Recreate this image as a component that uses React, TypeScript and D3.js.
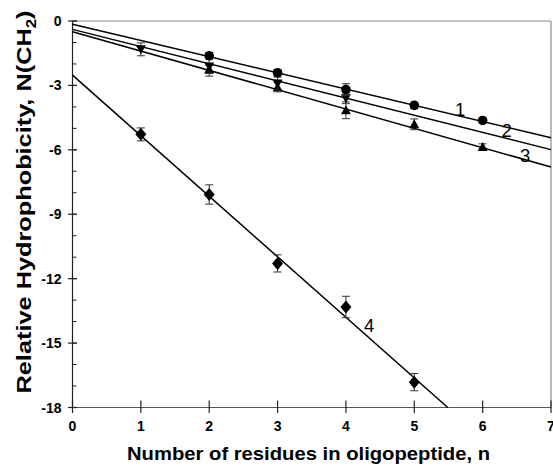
import React from "react";
import * as d3 from "d3";

// ---- data ----
const nValues1 = [2, 3, 4, 5, 6];
const hydro1 = [-1.62, -2.41, -3.19, -3.93, -4.63];
const err1 = [0.15, 0.12, 0.27, 0.15, 0.12];

const nValues2 = [1, 2, 3, 4];
const hydro2 = [-1.32, -2.12, -2.91, -3.6];
const err2 = [0.3, 0.45, 0.3, 0.25];

const nValues3 = [2, 3, 4, 5, 6];
const hydro3 = [-2.25, -3.08, -4.16, -4.81, -5.87];
const err3 = [0.2, 0.22, 0.39, 0.25, 0.15];

const nValues4 = [1, 2, 3, 4, 5];
const hydro4 = [-5.28, -8.08, -11.29, -13.32, -16.82];
const err4 = [0.3, 0.45, 0.4, 0.5, 0.4];

// regression lines: intercept, slope
const lineIntercepts = [-0.15, -0.39, -0.5, -2.52];
const lineSlopes = [-0.755, -0.8, -0.9, -2.82];
const lineLabels = ["1", "2", "3", "4"];
const labelAt = [
  [5.67, -4.11],
  [6.35, -5.08],
  [6.62, -6.24],
  [4.34, -14.16],
];

const xTicks = [0, 1, 2, 3, 4, 5, 6, 7];
const yMajorTicks = [0, -3, -6, -9, -12, -15, -18];
const yMinorTicks = d3.range(0, -19, -1);

const W = 553;
const H = 467;
const x = d3.scaleLinear().domain([0, 7]).range([72.5, 551]);
const y = d3.scaleLinear().domain([-18, 0]).range([407.5, 21]);

const FONT = "'Liberation Sans', Arial, Helvetica, sans-serif";

type Marker = "circle" | "down" | "up" | "diamond";

function markerPath(type: Marker): string {
  if (type === "circle") return d3.symbol(d3.symbolCircle, 72)() as string;
  if (type === "diamond") return "M0,-6.5L5.5,0L0,6.5L-5.5,0Z";
  if (type === "up") return "M0,-5L5,4L-5,4Z";
  return "M0,5L5,-4L-5,-4Z";
}

function Series({ ns, vs, es, type }: { ns: number[]; vs: number[]; es: number[]; type: Marker }) {
  return (
    <g>
      {ns.map((n, i) => {
        const cx = x(n);
        const cy = y(vs[i]);
        const y1 = y(vs[i] + es[i]);
        const y2 = y(vs[i] - es[i]);
        return (
          <g key={i}>
            <line x1={cx} x2={cx} y1={y1} y2={y2} stroke="#333" strokeWidth={1} />
            <line x1={cx - 4} x2={cx + 4} y1={y1} y2={y1} stroke="#333" strokeWidth={1} />
            <line x1={cx - 4} x2={cx + 4} y1={y2} y2={y2} stroke="#333" strokeWidth={1} />
            <path d={markerPath(type)} transform={`translate(${cx},${cy})`} fill="#000" />
          </g>
        );
      })}
    </g>
  );
}

export default function App() {
  const fitLines = lineIntercepts.map((b, i) => {
    const m = lineSlopes[i];
    let xEnd = 7;
    if (b + m * 7 < -18) xEnd = (-18 - b) / m;
    return { x1: 0, y1: b, x2: xEnd, y2: b + m * xEnd };
  });

  return (
    <svg
      width={W}
      height={H}
      style={{ position: "absolute", left: 0, top: 0, background: "#fff" }}
      fontFamily={FONT}
    >
      {/* frame */}
      <line x1={x(0)} x2={x(7)} y1={y(0)} y2={y(0)} stroke="#888" strokeWidth={1} />
      <line x1={x(7)} x2={x(7)} y1={y(0)} y2={y(-18)} stroke="#777" strokeWidth={1} />
      <line x1={x(0)} x2={x(7)} y1={y(-18)} y2={y(-18)} stroke="#555" strokeWidth={1} />
      <line x1={x(0)} x2={x(0)} y1={y(0)} y2={y(-18)} stroke="#222" strokeWidth={1.2} />

      {/* y ticks */}
      {yMinorTicks.map((t) => (
        <line key={"m" + t} x1={x(0)} x2={x(0) + 4} y1={y(t)} y2={y(t)} stroke="#222" strokeWidth={1} />
      ))}
      {yMajorTicks.map((t) => (
        <g key={"M" + t}>
          <line x1={x(0) - 4.5} x2={x(0) + 4.5} y1={y(t)} y2={y(t)} stroke="#222" strokeWidth={1.2} />
          <text x={x(0) - 11} y={y(t)} dy="0.36em" textAnchor="end" fontSize={14} fontWeight="bold">
            {String(t)}
          </text>
        </g>
      ))}

      {/* x ticks */}
      {xTicks.map((t) => (
        <g key={"x" + t}>
          <line x1={x(t)} x2={x(t)} y1={y(-18) - 7} y2={y(-18) + 5.5} stroke="#222" strokeWidth={1.2} />
          <text x={x(t)} y={431} textAnchor="middle" fontSize={14} fontWeight="bold">
            {t}
          </text>
        </g>
      ))}

      {/* fit lines */}
      {fitLines.map((l, i) => (
        <line
          key={"l" + i}
          x1={x(l.x1)}
          y1={y(l.y1)}
          x2={x(l.x2)}
          y2={y(l.y2)}
          stroke="#000"
          strokeWidth={1.5}
        />
      ))}

      <Series ns={nValues3} vs={hydro3} es={err3} type="up" />
      <Series ns={nValues2} vs={hydro2} es={err2} type="down" />
      <Series ns={nValues1} vs={hydro1} es={err1} type="circle" />
      <Series ns={nValues4} vs={hydro4} es={err4} type="diamond" />

      {/* line labels */}
      {lineLabels.map((lab, i) => (
        <text
          key={"lab" + i}
          x={x(labelAt[i][0])}
          y={y(labelAt[i][1])}
          dy="0.36em"
          textAnchor="middle"
          fontSize={18.5}
        >
          {lab}
        </text>
      ))}

      {/* axis titles */}
      <text
        x={308.5}
        y={460}
        textAnchor="middle"
        fontSize={19}
        fontWeight="bold"
        textLength={363}
        lengthAdjust="spacingAndGlyphs"
      >
        Number of residues in oligopeptide, n
      </text>
      <text
        transform={`translate(31,202) rotate(-90)`}
        textAnchor="middle"
        fontSize={21}
        fontWeight="bold"
        textLength={383}
        lengthAdjust="spacingAndGlyphs"
      >
        Relative Hydrophobicity, N(CH
        <tspan fontSize={14} dy={5}>2</tspan>
        <tspan dy={-5}>)</tspan>
      </text>
    </svg>
  );
}
